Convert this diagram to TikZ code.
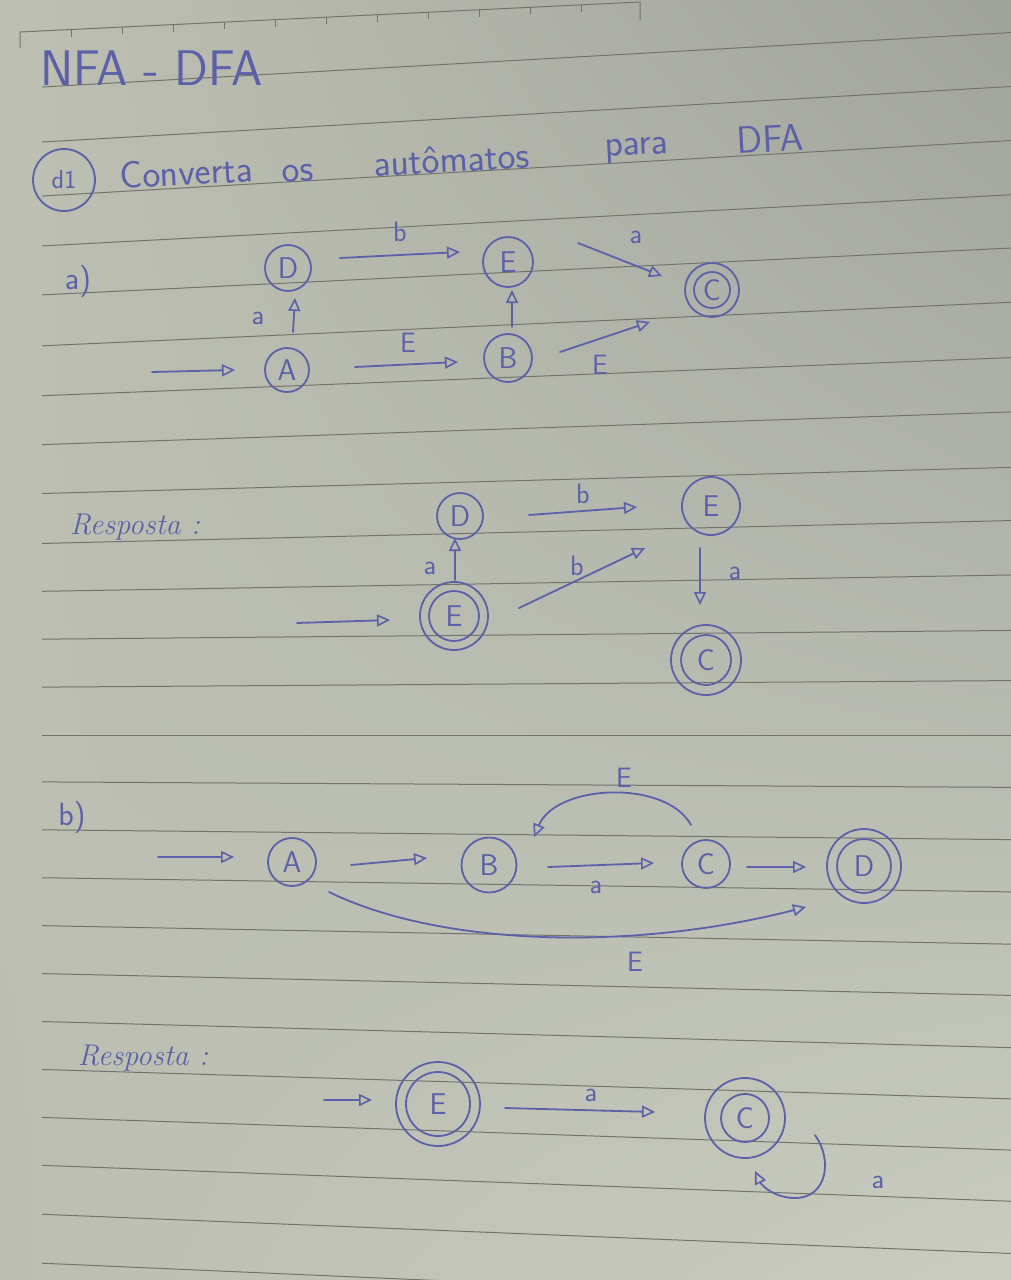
\documentclass[tikz,border=0pt]{standalone}
\usepackage{fontspec}
\usetikzlibrary{arrows.meta,calc,shadings}
\definecolor{ink}{HTML}{5C60A8}
\definecolor{ruled}{HTML}{72746C}
\definecolor{pUL}{RGB}{190,192,179}
\definecolor{pUR}{RGB}{160,163,156}
\definecolor{pLL}{RGB}{187,190,177}
\definecolor{pLR}{RGB}{201,204,191}
\tikzset{
  pen/.style={draw=ink, line width=1.8pt, line cap=round, line join=round},
  st/.style={circle, draw=ink, line width=1.8pt, minimum size=#1, inner sep=0pt,
    text=ink, font=\sffamily\fontsize{30}{30}\selectfont},
  st/.default=46pt,
  ring/.style={draw=ink, line width=1.8pt},
  tr/.style={pen, -{Triangle[open,length=13pt,width=12pt,line width=1.6pt]}},
  lbl/.style={text=ink, inner sep=0pt, font=\sffamily\fontsize{28}{28}\selectfont},
  head/.style={text=ink, inner sep=0pt, anchor=base, rotate=3, font=\sffamily\fontsize{38}{38}\selectfont},
  cursive/.style={text=ink, inner sep=0pt, font=\rmfamily\itshape\fontsize{30}{30}\selectfont},
  paperline/.style={draw=ruled, line width=1pt},
}
\begin{document}
\begin{tikzpicture}[x=1pt,y=-1pt]
% paper
\shade[upper left=pUL, upper right=pUR, lower left=pLL, lower right=pLR]
  (0,0) rectangle (1011,1280);
\useasboundingbox (0,0) rectangle (1011,1280);
% ruled lines
\foreach \a/\b in {86/36,141/90,195/144,245/198,294/251,345/305,395/360,444/414,493/469,543/522,591/576,639/631,687/681,735/735,782/787,830/839,878/891,926/943,974/994,1022/1046,1070/1097,1118/1148,1166/1199,1215/1251,1264/1303}
  \draw[paperline] ($(60,\a)!-0.02!(950,\b)$) -- ($(60,\a)!1.07!(950,\b)$);
% perforated top edge
\draw[paperline] (20,48) -- (20,32) -- (640,2) -- (640,20);
\foreach \i in {1,...,11}
  \draw[paperline, line width=0.9pt] ($(20,32)!{\i*51/620}!(640,2)$) -- ++(0,7);

% heading
\node[text=ink, inner sep=0pt, anchor=base west, font=\sffamily\fontsize{50}{50}\selectfont] (title) at (40,85) {NFA - DFA};
\node[circle, draw=ink, line width=1.8pt, minimum width=62pt, minimum height=52pt, inner sep=0pt, text=ink,
      font=\sffamily\fontsize{26}{26}\selectfont] (num) at (64,180) {d1};
\node[head] (w1) at (187,185) {Converta};
\node[head] (w2) at (298,182) {os};
\node[head] (w3) at (452,172) {autômatos};
\node[head] (w4) at (637,155) {para};
\node[head] (w5) at (771,152) {DFA};

% ---------- a) ----------
\node[lbl, font=\sffamily\fontsize{32}{32}\selectfont] (pa) at (78,282) {a)};
\node[st=46pt] (D) at (288,268) {D};
\node[st=50pt] (E) at (508,262) {E};
\node[st=54pt] (C) at (712,290) {C};
\draw[ring] (C.center) circle[radius=18];
\node[st=44pt] (A) at (287,370) {A};
\node[st=48pt] (B) at (508,358) {B};

\draw[tr] ($(A)+(-135,2)$) -- ($(A)+(-52,0)$);
\draw[tr] ($(A)+(6,-38)$) -- ($(D)+(7,30)$);
\node[lbl] (la1) at (258,318) {a};
\draw[tr] ($(D)+(52,-10)$) -- ($(E)+(-48,-10)$);
\node[lbl] (la2) at (400,232) {b};
\draw[tr] ($(E)+(70,-19)$) -- ($(C)+(-50,-14)$);
\node[lbl] (la3) at (636,237) {a};
\draw[tr] ($(A)+(68,-3)$) -- ($(B)+(-50,4)$);
\node[lbl] (la4) at (408,343) {E};
\draw[tr] ($(B)+(4,-31)$) -- ($(E)+(4,28)$);
\draw[tr] ($(B)+(52,-6)$) -- ($(C)+(-62,32)$);
\node[lbl] (la5) at (600,365) {E};

% ---------- Resposta 1 ----------
\node[cursive] (r1) at (135,527) {Resposta :};
\node[st=46pt] (D2) at (460,516) {D};
\node[st=58pt] (E2) at (711,506) {E};
\node[st=68pt] (E3) at (454,616) {E};
\draw[ring] (E3.center) circle[radius=25];
\node[st=70pt] (C2) at (706,660) {C};
\draw[ring] (C2.center) circle[radius=25];

\draw[tr] ($(E3)+(-157,7)$) -- ($(E3)+(-64,4)$);
\draw[tr] ($(E3)+(1,-36)$) -- ($(D2)+(-5,22)$);
\node[lbl] (lb1) at (430,568) {a};
\draw[tr] ($(D2)+(69,-1)$) -- ($(E2)+(-74,1)$);
\node[lbl] (lb2) at (583,494) {b};
\draw[tr] ($(E3)+(65,-8)$) -- ($(E2)+(-66,42)$);
\node[lbl] (lb3) at (577,566) {b};
\draw[tr] ($(E2)+(-11,42)$) -- ($(C2)+(-6,-55)$);
\node[lbl] (lb4) at (735,573) {a};

% ---------- b) ----------
\node[lbl, font=\sffamily\fontsize{32}{32}\selectfont] (pb) at (72,818) {b)};
\node[st=48pt] (bA) at (292,862) {A};
\node[st=55pt] (bB) at (489,865) {B};
\node[st=48pt] (bC) at (706,864) {C};
\node[st=74pt] (bD) at (864,866) {D};
\draw[ring] (bD.center) circle[radius=27];

\draw[tr] ($(bA)+(-134,-5)$) -- ($(bA)+(-58,-5)$);
\draw[tr] ($(bA)+(59,3)$) -- ($(bB)+(-62,-7)$);
\draw[tr] ($(bB)+(59,2)$) -- ($(bC)+(-52,-1)$);
\node[lbl] (lc1) at (596,887) {a};
\draw[tr] ($(bC)+(41,3)$) -- ($(bD)+(-58,1)$);
\draw[tr] ($(bC)+(-15,-39)$) .. controls ($(bC)+(-40,-85)$) and ($(bC)+(-150,-80)$) .. ($(bB)+(45,-28)$);
\node[lbl] (lc2) at (624,778) {E};
\draw[tr] ($(bA)+(37,30)$) .. controls ($(bA)+(150,85)$) and ($(bD)+(-230,85)$) .. ($(bD)+(-58,41)$);
\node[lbl] (lc3) at (635,962) {E};

% ---------- Resposta 2 ----------
\node[cursive] (r2) at (143,1058) {Resposta :};
\node[st=84pt] (fE) at (438,1104) {E};
\draw[ring] (fE.center) circle[radius=32];
\node[st=80pt] (fC) at (745,1118) {C};
\draw[ring] (fC.center) circle[radius=24];

\draw[tr] ($(fE)+(-114,-4)$) -- ($(fE)+(-66,-4)$);
\draw[tr] ($(fE)+(67,4)$) -- ($(fC)+(-90,-6)$);
\node[lbl] (ld1) at (591,1095) {a};
\draw[tr] ($(fC)+(70,17)$) .. controls ($(fC)+(88,42)$) and ($(fC)+(82,80)$) .. ($(fC)+(50,80)$)
          .. controls ($(fC)+(30,80)$) and ($(fC)+(17,68)$) .. ($(fC)+(10,53)$);
\node[lbl] (ld2) at (878,1182) {a};
\end{tikzpicture}
\end{document}
